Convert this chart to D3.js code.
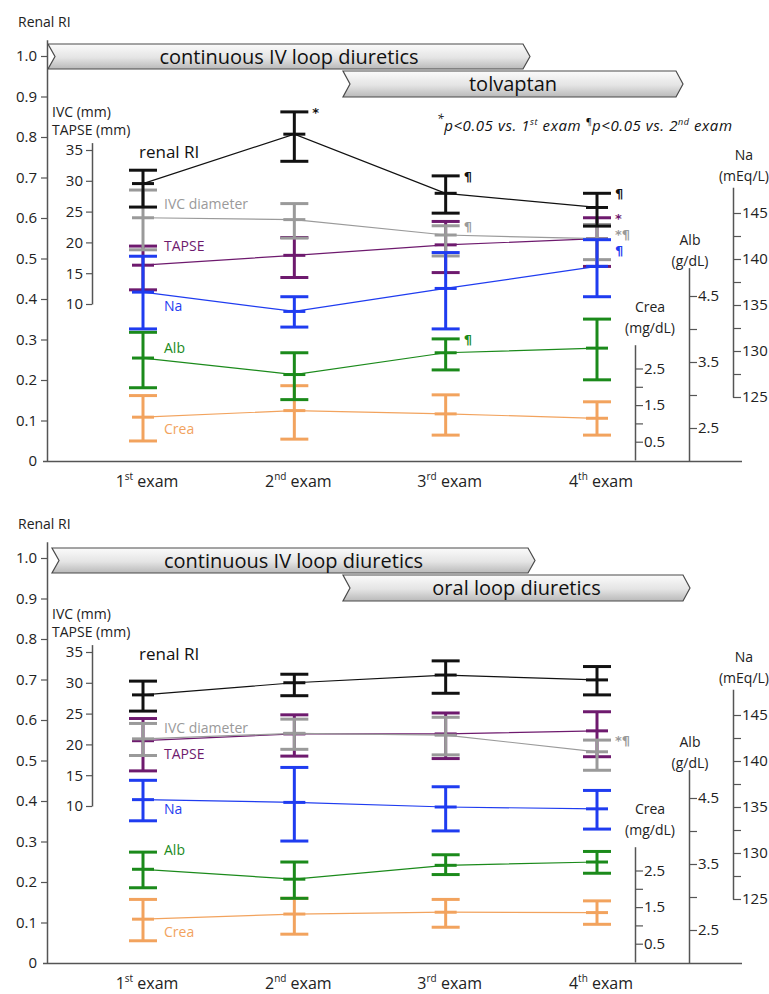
<!DOCTYPE html>
<html>
<head>
<meta charset="utf-8">
<script src="https://cdn.jsdelivr.net/npm/d3@7"></script>
<style>
  body { margin: 0; background: #fff; }
  svg text { font-family: 'Open Sans', 'Noto Sans', sans-serif; }
</style>
</head>
<body>
<svg id="chart" width="769" height="994"></svg>
<script>
// Categories (x axis)
const exams = ['1st', '2nd', '3rd', '4th'];

// Each entry: [lower, mean, upper] for 1st..4th exam
// Top panel: tolvaptan group
const tolvRI    = [[0.627, 0.685, 0.718], [0.740, 0.807, 0.862], [0.612, 0.661, 0.704], [0.580, 0.626, 0.661]];
const tolvIVC   = [[18.8, 24.0, 28.5], [20.7, 23.7, 26.3], [17.8, 21.2, 22.7], [17.2, 20.6, 22.9]];
const tolvTAPSE = [[12.3, 16.3, 19.4], [14.3, 17.9, 20.8], [15.1, 19.6, 23.4], [16.1, 20.6, 24.0]];
const tolvNa    = [[132.4, 136.4, 140.3], [132.6, 134.3, 135.9], [132.4, 136.8, 140.7], [135.9, 139.2, 142.1]];
const tolvAlb   = [[3.11, 3.56, 3.95], [2.93, 3.31, 3.64], [3.38, 3.64, 3.85], [3.23, 3.71, 4.15]];
const tolvCrea  = [[0.52, 1.17, 1.76], [0.57, 1.35, 2.03], [0.68, 1.26, 1.78], [0.68, 1.14, 1.59]];

// Bottom panel: oral loop diuretics group
const oralRI    = [[0.622, 0.662, 0.696], [0.660, 0.692, 0.713], [0.666, 0.711, 0.746], [0.662, 0.699, 0.732]];
const oralIVC   = [[18.2, 20.9, 23.4], [19.2, 21.8, 24.1], [18.3, 21.5, 24.4], [15.8, 18.8, 20.7]];
const oralTAPSE = [[15.7, 20.6, 24.2], [18.1, 21.7, 24.8], [17.7, 21.7, 25.1], [18.0, 22.2, 25.3]];
const oralNa    = [[133.5, 135.8, 137.9], [131.3, 135.5, 139.3], [132.4, 135.0, 137.2], [132.6, 134.8, 136.8]];
const oralAlb   = [[3.14, 3.42, 3.68], [2.98, 3.27, 3.53], [3.34, 3.48, 3.64], [3.36, 3.53, 3.69]];
const oralCrea  = [[0.58, 1.17, 1.71], [0.76, 1.31, 1.74], [0.95, 1.36, 1.71], [1.03, 1.35, 1.67]];

// Significance marks: [exam, series, symbol]
const tolvMarks = [['2nd', 'RI', '*'], ['3rd', 'RI', '¶'], ['3rd', 'IVC', '¶'], ['3rd', 'Alb', '¶'],
                   ['4th', 'RI', '¶'], ['4th', 'TAPSE', '*'], ['4th', 'IVC', '*¶'], ['4th', 'Na', '¶']];
const oralMarks = [['4th', 'IVC', '*¶']];

// Tick values and labelled ticks
const riTicks = [0, 0.1, 0.2, 0.3, 0.4, 0.5, 0.6, 0.7, 0.8, 0.9, 1.0];
const mmTicks = [10, 15, 20, 25, 30, 35];
const naTicks = [125, 127.5, 130, 132.5, 135, 137.5, 140, 142.5, 145];
const naLabels = [125, 130, 135, 140, 145];
const albTicks = [2.5, 3, 3.5, 4, 4.5];
const albLabels = [2.5, 3.5, 4.5];
const creaTicks = [0.5, 1, 1.5, 2, 2.5];
const creaLabels = [0.5, 1.5, 2.5];

const app = {
    svg: null,
    x: null,
    colors: {
        RI: '#111111', IVC: '#9a9a9a', TAPSE: '#6e1a6e',
        Na: '#1f3cf0', Alb: '#1b8a1b', Crea: '#f2a35e'
    },

    init: function() {
        app.svg = d3.select('#chart');
        app.x = d3.scalePoint().domain(exams).range([143, 597]);
        app.addGradient();

        app.drawPanel({
            base: 461,
            banners: [
                { text: 'continuous IV loop diuretics', x0: 48, x1: 530, y0: 44, y1: 69 },
                { text: 'tolvaptan', x0: 343, x1: 683, y0: 71, y1: 97 }
            ],
            series: { RI: tolvRI, IVC: tolvIVC, TAPSE: tolvTAPSE, Na: tolvNa, Alb: tolvAlb, Crea: tolvCrea },
            labelY: { RI: 158, IVC: 209, TAPSE: 251, Na: 311, Alb: 353, Crea: 434 },
            marks: tolvMarks,
            legend: true
        });

        app.drawPanel({
            base: 963,
            banners: [
                { text: 'continuous IV loop diuretics', x0: 52, x1: 535, y0: 548, y1: 573 },
                { text: 'oral loop diuretics', x0: 343, x1: 690, y0: 575, y1: 601 }
            ],
            series: { RI: oralRI, IVC: oralIVC, TAPSE: oralTAPSE, Na: oralNa, Alb: oralAlb, Crea: oralCrea },
            labelY: { RI: 660, IVC: 733, TAPSE: 759, Na: 814, Alb: 855, Crea: 937 },
            marks: oralMarks,
            legend: false
        });
    },

    addGradient: function() {
        const grad = app.svg.append('defs').append('linearGradient')
            .attr('id', 'bannerFill')
            .attr('x1', 0).attr('y1', 0).attr('x2', 0).attr('y2', 1);
        grad.append('stop').attr('offset', '0%').attr('stop-color', '#fbfbfb');
        grad.append('stop').attr('offset', '55%').attr('stop-color', '#e4e4e4');
        grad.append('stop').attr('offset', '100%').attr('stop-color', '#b9b9b9');
    },

    makeScales: function(base) {
        return {
            RI: d3.scaleLinear().domain([0, 1.04]).range([base, base - 405 * 1.04]),
            IVC: d3.scaleLinear().domain([10, 36.2]).range([base - 157, base - 157 - 6.16 * 26.2]),
            TAPSE: null,
            Na: d3.scaleLinear().domain([125, 147.8]).range([base - 64, base - 64 - 9.2 * 22.8]),
            Alb: d3.scaleLinear().domain([2, 4.93]).range([base, base - 66 * 2.93]),
            Crea: d3.scaleLinear().domain([0, 3.15]).range([base - 1, base - 1 - 36.6 * 3.15])
        };
    },

    styleAxis: function(g) {
        g.select('.domain').attr('stroke', '#555').attr('stroke-width', 1.5);
        g.selectAll('.tick line').attr('stroke', '#555').attr('stroke-width', 1.2);
        g.selectAll('.tick text').style('font-size', '15px').style('fill', '#222');
    },

    drawPanel: function(p) {
        const svg = app.svg;
        const x = app.x;
        const base = p.base;
        const s = app.makeScales(base);
        s.TAPSE = s.IVC;

        // Banners (treatment periods)
        p.banners.forEach(b => {
            const mid = (b.y0 + b.y1) / 2;
            const path = d3.path();
            path.moveTo(b.x0, b.y0);
            path.lineTo(b.x1 - 7, b.y0);
            path.lineTo(b.x1, mid);
            path.lineTo(b.x1 - 7, b.y1);
            path.lineTo(b.x0, b.y1);
            path.lineTo(b.x0 + 7, mid);
            path.closePath();
            svg.append('path')
                .attr('d', path.toString())
                .attr('fill', 'url(#bannerFill)')
                .attr('stroke', '#4a4a4a')
                .attr('stroke-width', 1.2);
            svg.append('text')
                .attr('x', (b.x0 + b.x1) / 2)
                .attr('y', mid + 7)
                .attr('text-anchor', 'middle')
                .style('font-size', '20px')
                .style('fill', '#111')
                .text(b.text);
        });

        // Left renal RI axis
        const riAxis = svg.append('g')
            .attr('transform', 'translate(47,0)')
            .call(d3.axisLeft(s.RI).tickValues(riTicks).tickSize(6).tickSizeOuter(0).tickPadding(4)
                .tickFormat(d => d === 0 ? '0' : d3.format('.1f')(d)))
            .call(app.styleAxis);
        riAxis.selectAll('.tick').filter(d => d === 0).select('line').remove();

        svg.append('text').attr('x', 18).attr('y', base - 434)
            .style('font-size', '14px').style('fill', '#222').text('Renal RI');

        // IVC / TAPSE axis
        svg.append('g')
            .attr('transform', 'translate(92,0)')
            .call(d3.axisLeft(s.IVC).tickValues(mmTicks).tickSize(6).tickSizeOuter(0).tickPadding(3))
            .call(app.styleAxis);
        svg.append('text').attr('x', 52).attr('y', base - 344)
            .style('font-size', '14px').style('fill', '#222').text('IVC (mm)');
        svg.append('text').attr('x', 52).attr('y', base - 326)
            .style('font-size', '14px').style('fill', '#222').text('TAPSE (mm)');

        // Right axes: Crea, Alb, Na
        const rightAxes = [
            { key: 'Crea', x: 635, ticks: creaTicks, labels: creaLabels, title: ['Crea', '(mg/dL)'], tx: 650, ty: base - 149 },
            { key: 'Alb', x: 689, ticks: albTicks, labels: albLabels, title: ['Alb', '(g/dL)'], tx: 690, ty: base - 216 },
            { key: 'Na', x: 733, ticks: naTicks, labels: naLabels, title: ['Na', '(mEq/L)'], tx: 744, ty: base - 301 }
        ];
        rightAxes.forEach(a => {
            svg.append('g')
                .attr('transform', `translate(${a.x},0)`)
                .call(d3.axisRight(s[a.key]).tickValues(a.ticks).tickSize(8).tickSizeOuter(0).tickPadding(1)
                    .tickFormat(d => a.labels.includes(d) ? String(d) : ''))
                .call(app.styleAxis);
            a.title.forEach((t, i) => {
                svg.append('text')
                    .attr('x', a.tx).attr('y', a.ty + i * 21)
                    .attr('text-anchor', 'middle')
                    .style('font-size', '14px')
                    .style('fill', '#222')
                    .text(t);
            });
        });

        // X baseline and category labels
        svg.append('line')
            .attr('x1', 43).attr('x2', 742)
            .attr('y1', base + 0.5).attr('y2', base + 0.5)
            .attr('stroke', '#555').attr('stroke-width', 1.5);
        exams.forEach(e => {
            const t = svg.append('text')
                .attr('x', x(e) + 4).attr('y', base + 26)
                .attr('text-anchor', 'middle')
                .style('font-size', '16px')
                .style('fill', '#222');
            t.append('tspan').text(e.slice(0, 1));
            t.append('tspan').attr('baseline-shift', 'super').style('font-size', '10px').text(e.slice(1));
            t.append('tspan').text(' exam');
        });

        // Series: line through means, error bars
        const order = ['Crea', 'Alb', 'TAPSE', 'IVC', 'Na', 'RI'];
        const labelNames = { RI: 'renal RI', IVC: 'IVC diameter', TAPSE: 'TAPSE', Na: 'Na', Alb: 'Alb', Crea: 'Crea' };
        order.forEach(key => {
            const data = p.series[key];
            const y = s[key];
            const color = app.colors[key];
            const g = svg.append('g');

            g.append('path')
                .datum(data)
                .attr('d', d3.line().x((d, i) => x(exams[i])).y(d => y(d[1])))
                .attr('fill', 'none')
                .attr('stroke', color)
                .attr('stroke-width', 1.2);

            const bars = g.selectAll('g.bar').data(data).join('g').attr('class', 'bar')
                .attr('transform', (d, i) => `translate(${x(exams[i])},0)`);
            bars.append('line')
                .attr('y1', d => y(d[0])).attr('y2', d => y(d[2]))
                .attr('stroke', color).attr('stroke-width', 3);
            [0, 2].forEach(k => {
                bars.append('line')
                    .attr('x1', -14).attr('x2', 14)
                    .attr('y1', d => y(d[k])).attr('y2', d => y(d[k]))
                    .attr('stroke', color).attr('stroke-width', 3);
            });
            bars.append('line')
                .attr('x1', -11).attr('x2', 11)
                .attr('y1', d => y(d[1])).attr('y2', d => y(d[1]))
                .attr('stroke', color).attr('stroke-width', 3);

            svg.append('text')
                .attr('x', key === 'RI' ? 139 : 164)
                .attr('y', p.labelY[key])
                .style('font-size', key === 'RI' ? '17px' : '14px')
                .style('fill', color)
                .text(labelNames[key]);
        });

        // Significance marks, stacked so they do not collide
        exams.forEach(e => {
            const ms = p.marks.filter(m => m[0] === e)
                .map(m => ({ key: m[1], sym: m[2], y: s[m[1]](p.series[m[1]][exams.indexOf(e)][2]) }))
                .sort((a, b) => a.y - b.y);
            ms.forEach((m, i) => {
                if (i > 0 && m.y - ms[i - 1].y < 16) m.y = ms[i - 1].y + 16;
                svg.append('text')
                    .attr('x', x(e) + 18)
                    .attr('y', m.y + 5)
                    .style('font-family', "'DejaVu Sans', sans-serif")
                    .style('font-size', '13px')
                    .style('font-weight', 'bold')
                    .style('fill', app.colors[m.key])
                    .text(m.sym);
            });
        });

        // Significance legend
        if (p.legend) {
            const t = svg.append('text')
                .attr('x', 437).attr('y', base - 330)
                .attr('textLength', 295)
                .attr('lengthAdjust', 'spacing')
                .style('font-size', '15px').style('font-style', 'italic').style('fill', '#111');
            t.append('tspan').attr('baseline-shift', 'super').style('font-size', '12px').text('*');
            t.append('tspan').text('p<0.05 vs. 1');
            t.append('tspan').attr('baseline-shift', 'super').style('font-size', '9px').text('st');
            t.append('tspan').text(' exam  ');
            t.append('tspan').attr('baseline-shift', 'super').style('font-size', '9px').text('¶');
            t.append('tspan').text('p<0.05 vs. 2');
            t.append('tspan').attr('baseline-shift', 'super').style('font-size', '9px').text('nd');
            t.append('tspan').text(' exam');
        }
    }
};

document.addEventListener('DOMContentLoaded', app.init);
</script>
</body>
</html>
